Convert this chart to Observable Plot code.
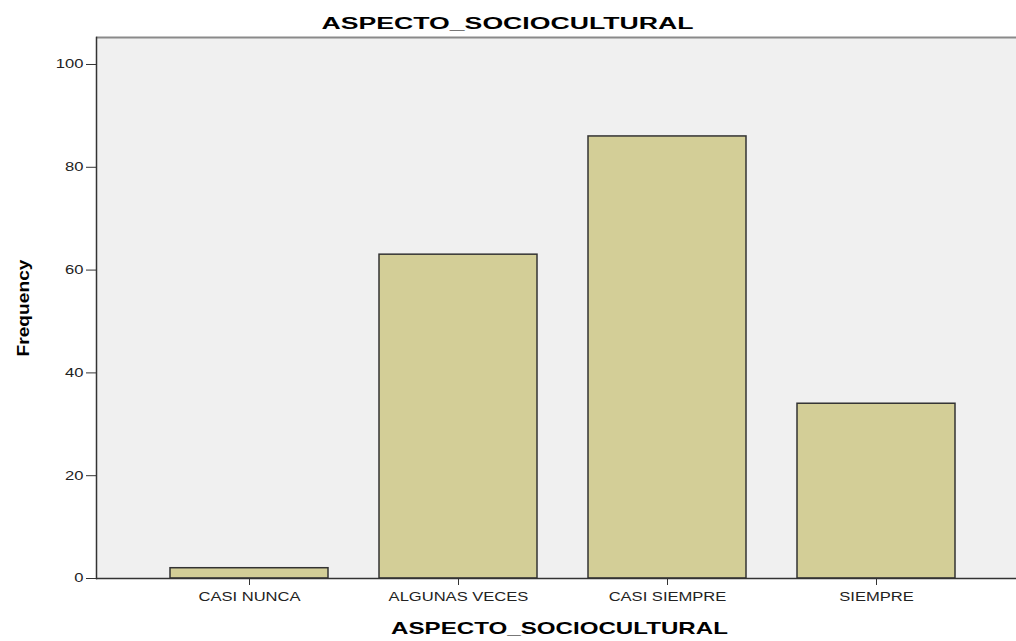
<!DOCTYPE html>
<html>
<head>
<meta charset="utf-8">
<script src="https://cdn.jsdelivr.net/npm/d3@7"></script>
<script src="https://cdn.jsdelivr.net/npm/@observablehq/plot@0.6"></script>
<style>
  html, body { margin: 0; padding: 0; background: #ffffff; }
  #chart svg { display: block; }
</style>
</head>
<body>
<div id="chart"></div>
<script>
const categories = ["CASI NUNCA", "ALGUNAS VECES", "CASI SIEMPRE", "SIEMPRE"];
const frequencies = [2, 63, 86, 34];
const yTicks = [0, 20, 40, 60, 80, 100];
const titleText = "ASPECTO_SOCIOCULTURAL";
const xLabelText = "ASPECTO_SOCIOCULTURAL";
const yLabelText = "Frequency";

const data = categories.map((c, i) => ({category: c, count: frequencies[i]}));

const chart = Plot.plot({
  width: 1016,
  height: 641,
  marginLeft: 96,
  marginRight: 0,
  marginTop: 37,
  marginBottom: 63,
  style: {fontFamily: "'Liberation Sans', Arial, sans-serif", color: "#222", background: "#fff"},
  x: {domain: categories, range: [96, 1028], paddingInner: 0.245, paddingOuter: 0.349},
  y: {domain: [0, 105.25]},
  marks: [
    Plot.frame({fill: "#f0f0f0", stroke: null}),
    Plot.barY(data, {x: "category", y: "count", fill: "#d3ce97", stroke: "#333", strokeWidth: 1.5}),
    Plot.ruleY([105.25], {stroke: "#8a8a8a", strokeWidth: 2}),
    Plot.ruleY([0], {stroke: "#333", strokeWidth: 1.5}),
    Plot.frame({anchor: "left", stroke: "#333", strokeWidth: 1.5}),
    Plot.axisY({ticks: yTicks, tickSize: 10, tickPadding: 3, fontSize: 12, label: null, stroke: "#333"}),
    Plot.axisX({tickSize: 7, tickPadding: 7, fontSize: 12, label: null, stroke: "#333"}),
    Plot.text([titleText], {text: d => d, frameAnchor: "top", dx: -49, dy: -20, fontSize: 16, fontWeight: "bold", fill: "#000", ariaLabel: () => "chart-title"}),
    Plot.text([xLabelText], {text: d => d, frameAnchor: "bottom", dx: 3, dy: 55, fontSize: 16, fontWeight: "bold", fill: "#000", ariaLabel: () => "x-label"}),
    Plot.text([yLabelText], {text: d => d, frameAnchor: "left", textAnchor: "middle", rotate: -90, dx: -73, fontSize: 16, fontWeight: "bold", fill: "#000", ariaLabel: () => "y-label"})
  ]
});

document.getElementById("chart").appendChild(chart);

// horizontal stretch of the original rendering
chart.querySelectorAll('g[aria-label="x-axis tick label"] text, g[aria-label="y-axis tick label"] text').forEach(t => {
  const tr = t.getAttribute("transform") || "";
  t.setAttribute("transform", tr + " scale(1.38,1)");
});
const allTexts = Array.from(chart.querySelectorAll("text"));
const fit = (content, occurrence, len) => {
  const matches = allTexts.filter(t => t.textContent === content && !t.closest('g[aria-label$="tick label"]'));
  const t = matches[occurrence];
  if (!t) return;
  const natural = t.getComputedTextLength();
  const s = len / natural;
  const tr = t.getAttribute("transform") || "";
  t.setAttribute("transform", tr + ` scale(${s},1)`);
};
fit(titleText, 0, 372);
fit(xLabelText, 1, 337);
fit(yLabelText, 0, 97);
</script>
</body>
</html>
